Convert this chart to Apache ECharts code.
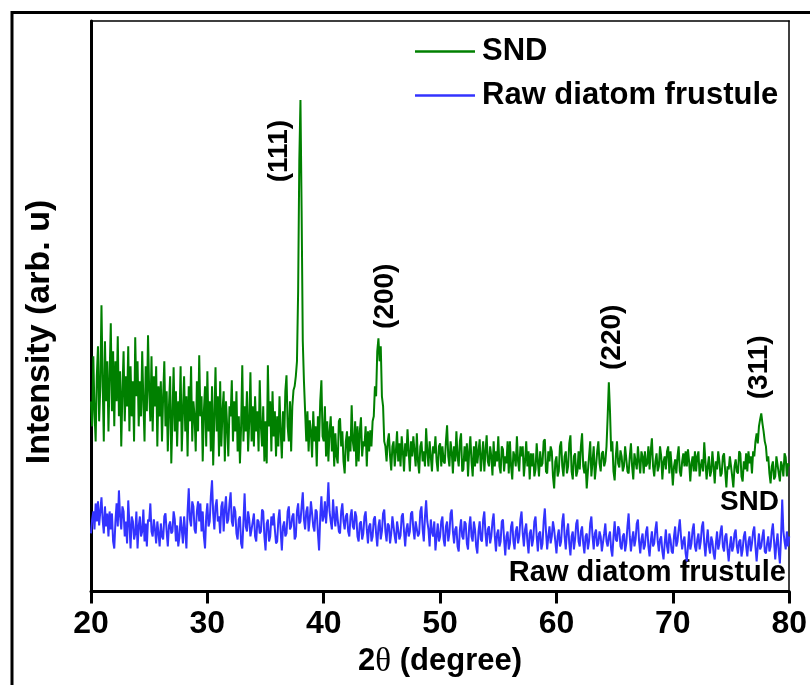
<!DOCTYPE html>
<html>
<head>
<meta charset="utf-8">
<script src="https://cdn.jsdelivr.net/npm/echarts@6/dist/echarts.min.js"></script>
<style>
html,body{margin:0;padding:0;background:#fff;}
#chart{width:810px;height:685px;}
</style>
</head>
<body>
<div id="chart"></div>
<script>
// 2-theta sampling grid (degrees)
const thetaStart = 20;
const thetaStep = 0.1;
// SND intensity (arb. u), one value per 0.1 degree from 20 to 80 (20 values per row = 2 degrees)
const sndIntensity = [
190,165,235,180,150,215,245,170,205,286,210,150,250,190,230,160,215,268,180,240,
165,230,190,255,175,220,145,200,240,170,215,185,245,160,225,175,210,150,254,195,
230,165,210,175,240,190,150,225,180,256,200,170,235,160,215,185,225,145,205,175,
210,150,195,230,165,200,140,185,215,128,175,224,160,200,145,190,170,225,140,180,
215,160,195,135,205,170,225,150,190,175,140,210,160,236,175,195,130,180,205,145,
220,160,190,140,205,126,175,224,160,195,135,210,145,180,200,130,190,165,135,185,
175,211,150,190,160,200,140,175,128,165,226,150,185,160,200,140,170,219,150,185,
145,195,160,180,140,211,165,145,185,130,170,128,226,165,190,140,200,155,180,135,
175,145,195,160,133,180,150,200,216,165,150,190,140,185,201,205,215,230,300,430,
491,380,250,210,180,150,180,140,171,160,134,180,150,165,125,175,150,190,211,155,
150,185,135,170,130,160,175,140,165,125,158,135,128,170,173,145,160,130,118,150,
160,130,155,140,186,150,140,170,125,165,130,160,174,135,150,145,165,125,160,140,
161,145,170,175,205,195,240,253,230,245,195,185,150,145,130,150,158,135,121,145,
150,125,140,160,130,148,125,155,140,120,148,135,162,140,120,150,135,155,140,125,
158,130,118,145,150,130,140,125,163,140,125,150,135,120,145,138,155,130,120,145,
148,125,145,130,128,150,166,135,125,150,140,118,145,130,160,135,125,150,158,120,
122,145,130,148,115,140,155,130,115,145,125,150,128,140,152,120,135,150,120,140,
156,130,125,145,135,116,150,125,140,130,155,125,118,145,142,120,135,128,150,118,
150,125,112,140,135,125,155,130,120,145,135,145,115,130,150,125,140,112,138,125,
138,115,122,148,130,115,140,125,128,150,152,120,118,140,130,145,140,115,103,130,
135,115,120,145,150,125,115,135,140,118,125,148,156,120,112,135,138,115,120,140,
122,145,158,125,118,130,103,120,135,150,115,130,145,112,125,140,150,128,120,138,
140,125,130,145,175,209,180,140,150,120,111,135,150,128,124,141,135,120,125,145,
145,120,118,135,148,125,112,138,130,122,145,130,118,140,135,118,140,125,128,145,
122,140,153,125,115,130,138,120,125,145,135,112,130,135,122,140,145,118,140,125,
106,125,132,118,135,145,120,115,130,138,125,140,125,142,130,110,128,135,120,140,
120,135,140,115,125,132,120,149,130,112,125,135,115,120,140,125,108,130,122,140,
130,115,118,135,138,120,104,125,122,135,134,115,104,125,132,120,118,140,138,115,
110,130,122,138,120,140,128,135,118,140,135,150,158,148,165,172,178,168,160,150,
145,130,135,118,108,125,130,112,115,135,135,118,110,130,125,115,138,134,115,128,
125
];
// Raw diatom frustule intensity (arb. u), same grid
const rawIntensity = [
58,72,80,62,88,70,90,66,80,94,72,58,85,65,78,55,80,62,78,50,
43,70,88,65,101,75,62,85,80,55,70,48,91,68,43,75,70,52,58,80,
43,65,75,55,60,82,50,68,45,72,70,88,60,55,72,62,48,70,58,45,
68,55,52,75,78,60,45,66,70,58,60,80,72,50,66,45,55,75,62,48,
75,60,43,80,103,72,65,90,85,62,58,80,90,70,88,60,80,55,43,75,
88,65,70,95,111,78,62,85,92,70,75,58,85,90,60,82,95,68,72,88,
99,70,65,85,80,58,52,72,75,48,43,70,98,65,60,80,72,55,62,70,
78,55,50,72,70,58,60,82,80,55,41,68,72,50,55,75,66,78,62,48,
50,72,82,60,41,65,70,55,58,80,85,62,65,75,78,52,55,80,88,68,
70,85,99,72,62,80,85,60,72,90,78,65,60,82,80,58,41,75,95,70,
75,90,68,85,109,80,70,62,92,75,65,85,72,60,58,80,88,70,62,75,
78,60,55,75,82,65,62,80,75,55,50,68,70,52,58,75,80,62,48,65,
68,50,55,72,75,58,45,65,72,52,60,78,82,60,50,68,66,48,58,75,
75,55,48,70,62,52,56,75,78,60,45,62,68,55,60,78,80,62,52,70,
70,55,58,80,85,62,50,75,91,70,62,45,72,60,55,70,41,55,68,50,
55,70,75,52,45,65,70,50,58,78,82,60,48,62,65,45,40,62,72,55,
52,70,68,48,42,65,75,55,50,70,62,45,38,60,70,52,50,72,80,58,
45,62,65,48,55,70,78,55,40,58,62,45,50,70,72,52,36,55,60,42,
48,65,70,50,42,60,65,48,55,72,80,58,45,62,68,50,38,58,62,45,
52,70,75,55,40,58,60,42,48,70,83,60,42,55,65,48,55,70,62,50,
38,55,62,45,50,70,78,55,42,60,68,48,36,55,60,42,52,68,72,50,
45,60,65,48,38,55,58,42,50,68,75,55,42,58,62,45,48,60,55,40,
40,58,68,50,45,55,60,42,35,55,70,52,50,65,62,45,42,55,58,40,
48,65,78,55,40,52,60,45,52,68,72,50,38,52,58,42,46,60,65,45,
35,50,60,45,48,62,70,50,40,52,55,40,32,48,62,45,38,58,52,40,
38,55,65,45,50,62,72,55,42,50,55,38,30,45,60,42,48,62,68,45,
40,52,58,42,50,65,70,48,35,50,62,45,38,55,50,38,32,48,60,42,
48,60,66,45,40,55,58,42,30,45,55,40,45,58,62,45,38,50,52,35,
42,55,60,45,35,50,55,40,48,60,65,45,30,45,58,42,45,55,62,40,
38,48,55,40,45,60,68,50,32,48,58,40,28,55,92,60,50,42,60,45,
55
];
// Peak (hkl) annotations: label, 2-theta position, intensity position
const peakLabels = ['(111)', '(200)', '(220)', '(311)'];
const peakLabelTheta = [36.2, 45.25, 64.8, 77.4];
const peakLabelY = [440, 295, 254, 224];
const seriesNames = ['SND', 'Raw diatom frustule'];

const FONT = '"Liberation Sans", Arial, Helvetica, sans-serif';
const toPairs = arr => arr.map((v, i) => [+(thetaStart + i * thetaStep).toFixed(1), v]);

const chart = echarts.init(document.getElementById('chart'), null, {renderer: 'canvas'});
chart.setOption({
  animation: false,
  backgroundColor: '#ffffff',
  grid: {left: 91, right: 19.5, top: 21, bottom: 93.5, containLabel: false},
  legend: {
    data: seriesNames.map(n => ({name: n, icon: 'rect'})),
    orient: 'vertical',
    left: 410, top: 31,
    itemWidth: 60, itemHeight: 2.5, itemGap: 13,
    textStyle: {fontFamily: FONT, fontSize: 31, fontWeight: 'bold', color: '#000', padding: [0, 0, 0, 2]},
    selectedMode: false
  },
  xAxis: [{
    type: 'value', min: 20, max: 80, interval: 10, position: 'bottom',
    name: '{b|2}{t|θ}{b| (degree)}',
    nameLocation: 'middle', nameGap: 50,
    nameTextStyle: {
      rich: {
        b: {fontFamily: FONT, fontSize: 31, fontWeight: 'bold', color: '#000'},
        t: {fontFamily: '"Liberation Serif", "DejaVu Serif", serif', fontSize: 33, color: '#000'}
      }
    },
    axisLine: {show: true, lineStyle: {color: '#000', width: 3}},
    axisTick: {show: true, inside: false, length: 12, lineStyle: {color: '#000', width: 3}},
    axisLabel: {fontFamily: FONT, fontSize: 32, fontWeight: 'bold', color: '#000', margin: 17},
    splitLine: {show: false}
  }, {
    type: 'value', min: 20, max: 80, position: 'top',
    axisLine: {show: true, onZero: false, lineStyle: {color: '#000', width: 1.5}},
    axisTick: {show: false}, axisLabel: {show: false}, splitLine: {show: false}
  }],
  yAxis: [{
    type: 'value', min: 0, max: 570, position: 'left',
    axisLine: {show: true, onZero: false, lineStyle: {color: '#000', width: 3}},
    axisTick: {show: false}, axisLabel: {show: false}, splitLine: {show: false}
  }, {
    type: 'value', min: 0, max: 570, position: 'right',
    axisLine: {show: true, onZero: false, lineStyle: {color: '#000', width: 1.5}},
    axisTick: {show: false}, axisLabel: {show: false}, splitLine: {show: false}
  }],
  series: [{
    name: seriesNames[0], type: 'line', data: toPairs(sndIntensity),
    showSymbol: false, symbol: 'none',
    lineStyle: {color: '#008000', width: 2}, itemStyle: {color: '#008000'}, z: 3
  }, {
    name: seriesNames[1], type: 'line', data: toPairs(rawIntensity),
    showSymbol: false, symbol: 'none',
    lineStyle: {color: '#3333ff', width: 2}, itemStyle: {color: '#3333ff'}, z: 2
  }, {
    name: 'peaks', type: 'scatter', silent: true, symbolSize: 0.01,
    itemStyle: {color: '#000', opacity: 1},
    data: peakLabels.map((t, i) => [peakLabelTheta[i], peakLabelY[i], t]),
    label: {
      show: true, position: 'inside', rotate: 90,
      formatter: p => p.data[2],
      fontFamily: FONT, fontSize: 28, fontWeight: 'bold', color: '#000', opacity: 1,
      textBorderWidth: 0, textBorderColor: 'transparent', textShadowBlur: 0
    },
    z: 5
  }],
  graphic: [{
    type: 'rect', silent: true,
    shape: {x: 12, y: 12.5, width: 1000, height: 1000},
    style: {fill: 'none', stroke: '#000', lineWidth: 3}
  }, {
    type: 'text', x: 40, y: 332, rotation: Math.PI / 2, silent: true,
    style: {text: 'Intensity (arb. u)', x: 0, y: 0, align: 'center', verticalAlign: 'middle',
      textAlign: 'center', textVerticalAlign: 'middle',
      font: 'bold 34px ' + FONT, fill: '#000'}
  }, {
    type: 'text', x: 779, y: 502, silent: true,
    style: {text: 'SND', x: 0, y: 0, align: 'right', verticalAlign: 'middle',
      textAlign: 'right', textVerticalAlign: 'middle',
      font: 'bold 28px ' + FONT, fill: '#000'}
  }, {
    type: 'text', x: 786, y: 573, silent: true,
    style: {text: 'Raw diatom frustule', x: 0, y: 0, align: 'right', verticalAlign: 'middle',
      textAlign: 'right', textVerticalAlign: 'middle',
      font: 'bold 29px ' + FONT, fill: '#000'}
  }]
});
</script>
</body>
</html>
